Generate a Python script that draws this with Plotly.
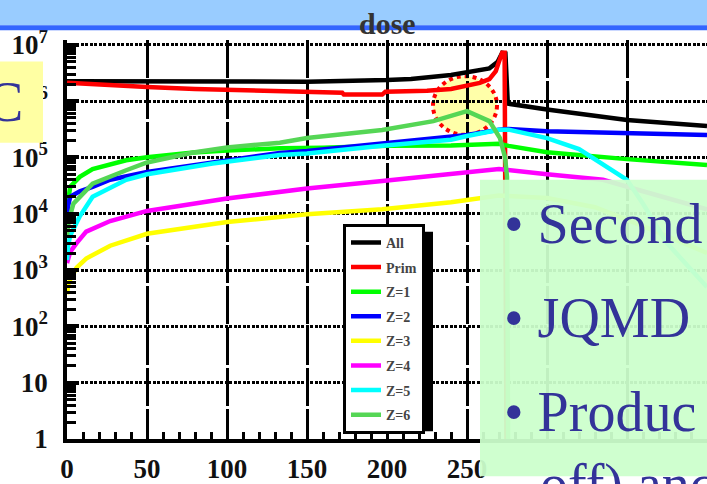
import plotly.graph_objects as go

# ---------------- data ----------------
x_all = [0, 60, 150, 200, 215, 240, 250, 264, 269, 272, 274, 275.5, 300, 350, 400]
y_all = [2.25e6, 2.2e6, 2.2e6, 2.35e6, 2.45e6, 2.9e6, 3.2e6, 3.8e6, 4.9e6, 7.2e6, 7.0e6, 9.0e5, 7.1e5, 4.6e5, 3.6e5]

x_prim = [0, 20, 50, 80, 120, 150, 172, 173, 197, 199, 225, 240, 250, 258, 264, 268, 270, 272, 273.5, 275]
y_prim = [2.1e6, 1.93e6, 1.78e6, 1.64e6, 1.52e6, 1.46e6, 1.4e6, 1.3e6, 1.3e6, 1.46e6, 1.52e6, 1.64e6, 1.85e6,
          2.1e6, 2.45e6, 3.4e6, 5.0e6, 7.2e6, 7.2e6, 1e-2]

x_z1 = [0, 0.7, 2, 8, 16, 37, 50, 79, 100, 133, 160, 200, 240, 270, 276, 300, 350, 400]
y_z1 = [8e3, 1.7e4, 3e4, 4.5e4, 6.2e4, 8.9e4, 1.0e5, 1.22e5, 1.32e5, 1.45e5, 1.48e5, 1.6e5, 1.62e5, 1.74e5,
        1.6e5, 1.23e5, 9.3e4, 7.3e4]

x_z2 = [0, 0.7, 2, 8, 16, 27, 50, 91, 133, 150, 197, 240, 250, 270, 276, 300, 350, 400]
y_z2 = [7e3, 1.4e4, 2e4, 2.5e4, 3e4, 4e4, 5.5e4, 8.1e4, 1.2e5, 1.3e5, 1.8e5, 2.4e5, 2.5e5, 3.1e5, 3.2e5,
        2.9e5, 2.7e5, 2.5e5]

x_z3 = [0, 0.7, 2, 6, 12, 27, 50, 100, 150, 197, 240, 270, 300, 330, 360, 400]
y_z3 = [3.7e2, 5.5e2, 6.8e2, 1.1e3, 1.6e3, 2.7e3, 4.4e3, 7.1e3, 9.8e3, 1.2e4, 1.6e4, 2.1e4, 1.9e4, 1.3e4,
        6e3, 2e3]

x_z4 = [0, 2, 6, 12, 27, 50, 100, 150, 197, 240, 270, 300, 335, 360, 380, 400]
y_z4 = [1.33e3, 2.1e3, 3e3, 4.8e3, 7.4e3, 1.12e4, 1.86e4, 2.8e4, 3.8e4, 5e4, 6.2e4, 5e4, 4e4, 2.5e4, 1.7e4, 1.2e4]

x_z5 = [0, 0.7, 2, 8, 16, 37, 50, 91, 133, 150, 197, 240, 250, 270, 276, 300, 320, 333, 345, 350, 360, 375, 400]
y_z5 = [1.5e3, 2.7e3, 4.1e3, 9e3, 2e4, 4e4, 5e4, 7.8e4, 1.1e5, 1.17e5, 1.6e5, 2.05e5, 2.4e5, 3.1e5, 3.1e5,
        2.2e5, 1.4e5, 8.2e4, 5e4, 4e4, 1.5e4, 3e3, 5e2]

x_z6 = [0, 1, 4, 16, 37, 50, 79, 100, 133, 150, 197, 210, 229, 250, 264, 270.6, 273.8, 275, 276]
y_z6 = [4e3, 7.4e3, 1.5e4, 3.4e4, 5.9e4, 8.1e4, 1.22e5, 1.5e5, 1.82e5, 2.2e5, 3.06e5, 3.5e5, 4.4e5, 6.6e5,
        4.4e5, 2.2e5, 1e5, 4.5e4, 1e-2]

series = [
    ("All", x_all, y_all, "#000000"),
    ("Prim", x_prim, y_prim, "#ff0000"),
    ("Z=1", x_z1, y_z1, "#00ff00"),
    ("Z=2", x_z2, y_z2, "#0000ff"),
    ("Z=3", x_z3, y_z3, "#ffff00"),
    ("Z=4", x_z4, y_z4, "#ff00ff"),
    ("Z=5", x_z5, y_z5, "#00ffff"),
    ("Z=6", x_z6, y_z6, "#55d655"),
]

# labels at 300..400 lie under the text box in the reference, so they are not shown
x_ticks = [0, 50, 100, 150, 200, 250, 300, 350, 400]
x_ticktext = ["0", "50", "100", "150", "200", "250", "", "", ""]
y_ticks = [1, 10, 1e2, 1e3, 1e4, 1e5, 1e6, 1e7]
y_ticktext = ["1", "10", "10<sup>2</sup>", "10<sup>3</sup>", "10<sup>4</sup>",
              "10<sup>5</sup>", "10<sup>6</sup>", "10<sup>7</sup>"]
y_minor = [k * 10 ** d for d in range(0, 7) for k in range(2, 10)]

# ---------------- layout geometry (pixels) ----------------
W, H = 707, 484
L, T, B = 67, 40, 448          # plot left, top, bottom in px
PW, PH = W - L, B - T


def px(X):
    return (X - L) / PW


def py(Y):
    return (B - Y) / PH


SERIF = "Liberation Serif"
NAVY = "#333399"

fig = go.Figure()
for i, (name, xs, ys, col) in enumerate(series):
    fig.add_trace(go.Scatter(x=xs, y=ys, mode="lines", name=name, legendgroup=f"g{i}",
                             line=dict(color=col, width=4.5)))

shapes = [
    # highlight circle around the fragment peak
    dict(type="circle", xref="paper", yref="paper", x0=px(433), x1=px(497), y0=py(137), y1=py(77),
         fillcolor="rgba(255,255,140,0.75)", line=dict(color="#ff0000", width=4, dash="dot"), layer="between"),
    # slide title band
    dict(type="rect", xref="paper", yref="paper", x0=px(0), x1=px(W), y0=py(25), y1=py(-2),
         fillcolor="#99ccff", line=dict(width=0), layer="above"),
    dict(type="rect", xref="paper", yref="paper", x0=px(0), x1=px(W), y0=py(30), y1=py(25),
         fillcolor="#3366ff", line=dict(width=0), layer="above"),
    # yellow text box at left
    dict(type="rect", xref="paper", yref="paper", x0=px(-2), x1=px(43), y0=py(145), y1=py(62),
         fillcolor="#ffffa3", line=dict(width=0), layer="above"),
    # green text box at bottom right
    dict(type="rect", xref="paper", yref="paper", x0=px(480), x1=px(W + 2), y0=py(H + 2), y1=py(183),
         fillcolor="#ccffcc", opacity=0.94, line=dict(width=0), layer="above"),
    # legend shadow
    dict(type="rect", xref="paper", yref="paper", x0=px(351), x1=px(433), y0=py(440), y1=py(236),
         fillcolor="#000000", line=dict(width=0), layer="above"),
]

annotations = [
    dict(text="dose", xref="paper", yref="paper", x=px(387), y=py(23), xanchor="center", yanchor="middle",
         showarrow=False, font=dict(family=SERIF, size=30, color="#333333", weight="bold")),
    dict(text="C", xref="paper", yref="paper", x=px(25), y=py(103), xanchor="right", yanchor="middle",
         showarrow=False, font=dict(family=SERIF, size=56, color=NAVY)),
]
for txt, yc in [("• Second", 228), ("• JQMD", 324), ("• Produc", 420)]:
    annotations.append(dict(text=txt, xref="paper", yref="paper", x=px(502), y=py(yc), xanchor="left",
                            yanchor="middle", showarrow=False, font=dict(family=SERIF, size=56, color=NAVY)))
annotations.append(dict(text="off)&nbsp;anc", xref="paper", yref="paper", x=px(538), y=py(495), xanchor="left",
                        yanchor="middle", showarrow=False, font=dict(family=SERIF, size=56, color=NAVY)))

tickfont = dict(family=SERIF, size=27, color="#111111", weight="bold")

fig.update_layout(
    width=W, height=H,
    margin=dict(l=L, r=0, t=T, b=H - B, pad=0),
    paper_bgcolor="white", plot_bgcolor="white",
    showlegend=True,
    legend=dict(x=px(343), y=py(228), xanchor="left", yanchor="top", bgcolor="white",
                bordercolor="black", borderwidth=3, tracegroupgap=3.4,
                font=dict(family=SERIF, size=14, color="#444444", weight="bold")),
    shapes=shapes,
    annotations=annotations,
    xaxis=dict(range=[0, 400], tickmode="array", tickvals=x_ticks, ticktext=x_ticktext,
               ticks="inside", ticklen=10, tickwidth=3, tickcolor="black",
               showline=True, linecolor="black", linewidth=3.5, mirror=False,
               showgrid=True, gridcolor="black", gridwidth=3, griddash="38px,3px",
               zeroline=False, tickfont=tickfont, ticklabelstandoff=3,
               minor=dict(dtick=10, ticks="inside", ticklen=7, tickwidth=2.5, tickcolor="black", showgrid=False)),
    yaxis=dict(type="log", range=[0, (B - T) / 57.6], tickmode="array", tickvals=y_ticks, ticktext=y_ticktext,
               ticks="inside", ticklen=12, tickwidth=4, tickcolor="black",
               showline=True, linecolor="black", linewidth=3.5, mirror=False,
               showgrid=True, gridcolor="black", gridwidth=3, griddash="3px,1.5px",
               zeroline=False, tickfont=tickfont, ticklabelstandoff=10,
               minor=dict(tickmode="array", tickvals=y_minor, ticks="inside", ticklen=9, tickwidth=2.5,
                          tickcolor="black", showgrid=False)),
)

fig.write_html("out.html")
